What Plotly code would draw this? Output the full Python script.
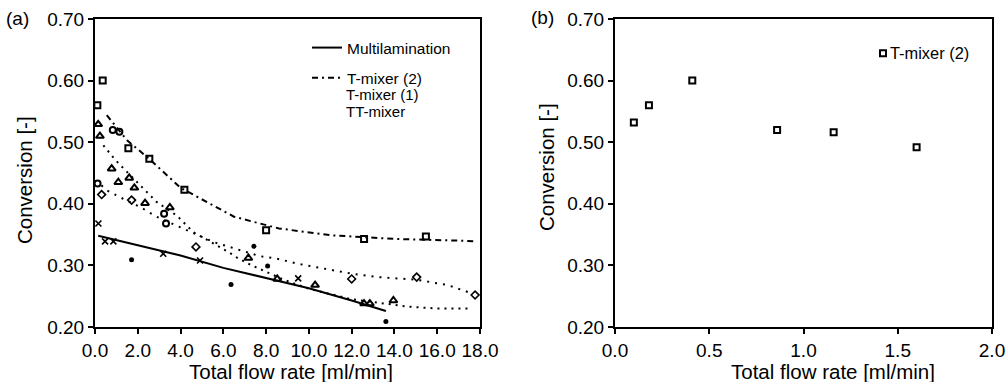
import plotly.graph_objects as go

# ---------------- Panel (a) data ----------------
# Multilamination (crosses + solid fit line)
multi_x = [0.16, 0.47, 0.86, 3.19, 4.91, 9.5]
multi_y = [0.368, 0.339, 0.339, 0.319, 0.308, 0.279]
multi_fit_x = [0.15, 2.0, 4.0, 6.0, 8.0, 10.0, 12.0, 13.6]
multi_fit_y = [0.348, 0.333, 0.316, 0.296, 0.279, 0.263, 0.243, 0.226]

# T-mixer (2) (open squares / circles + dash-dot fit line)
t2_sq_x = [0.11, 0.36, 1.56, 2.54, 4.18, 8.0, 12.58, 15.47]
t2_sq_y = [0.560, 0.600, 0.490, 0.473, 0.423, 0.357, 0.343, 0.347]
t2_ci_x = [0.83, 1.14]
t2_ci_y = [0.520, 0.517]
t2_fit_x = [0.55, 1.0, 1.5, 2.5, 4.0, 6.5, 8.6, 11.0, 12.1, 14.0, 17.2, 17.8]
t2_fit_y = [0.544, 0.525, 0.503, 0.474, 0.426, 0.379, 0.360, 0.349, 0.347, 0.343, 0.340, 0.339]

# T-mixer (1) (triangles + dotted fit line)
t1_x = [0.15, 0.23, 0.78, 1.09, 1.60, 1.84, 2.34, 3.50, 7.17, 8.52, 10.29, 12.58, 12.85, 13.95]
t1_y = [0.529, 0.510, 0.457, 0.435, 0.442, 0.426, 0.401, 0.394, 0.312, 0.278, 0.268, 0.238, 0.238, 0.243]
t1_fit_x = [0.39, 0.93, 1.32, 2.10, 2.88, 3.82, 4.60, 6.23, 6.62, 7.33, 8.88, 10.0, 12.0, 14.65, 16.0, 17.45]
t1_fit_y = [0.495, 0.472, 0.458, 0.430, 0.403, 0.381, 0.354, 0.322, 0.313, 0.300, 0.276, 0.262, 0.245, 0.233, 0.230, 0.230]

# TT-mixer (diamonds + dotted fit line)
tt_x = [0.31, 1.71, 4.72, 12.0, 15.04, 17.77]
tt_y = [0.415, 0.406, 0.330, 0.278, 0.281, 0.252]
tt_fit_x = [0.30, 0.55, 1.32, 2.10, 2.88, 4.29, 5.53, 7.71, 8.50, 9.43, 10.67, 12.08, 13.20, 15.0, 16.5, 17.5]
tt_fit_y = [0.430, 0.422, 0.408, 0.395, 0.379, 0.357, 0.338, 0.315, 0.311, 0.303, 0.295, 0.286, 0.281, 0.277, 0.268, 0.256]

# other open circles and filled dots
oc_x = [0.12, 3.23, 3.32]
oc_y = [0.433, 0.384, 0.368]
dot_x = [1.71, 6.36, 7.43, 8.07, 13.6]
dot_y = [0.309, 0.269, 0.331, 0.299, 0.209]

# ---------------- Panel (b) data ----------------
b_x = [0.10, 0.18, 0.41, 0.86, 1.16, 1.60]
b_y = [0.532, 0.560, 0.600, 0.520, 0.516, 0.492]

FONT = "Liberation Sans, Arial, sans-serif"
BLACK = "#000000"

fig = go.Figure()

def mk(x, y, symbol, size=6, lw=1.8, xa="x", ya="y"):
    return go.Scatter(x=x, y=y, mode="markers", xaxis=xa, yaxis=ya, showlegend=False,
                      marker=dict(symbol=symbol, size=size, color=BLACK,
                                  line=dict(color=BLACK, width=lw)),
                      hoverinfo="skip")

# fit lines (legend entries for first two)
fig.add_trace(go.Scatter(x=multi_fit_x, y=multi_fit_y, mode="lines", name="Multilamination",
                         line=dict(color=BLACK, width=2), legendgroup="g1", legend="legend"))
fig.add_trace(go.Scatter(x=t2_fit_x, y=t2_fit_y, mode="lines", name="T-mixer (2)",
                         line=dict(color=BLACK, width=2, dash="6px,4px,2px,4px"),
                         legendgroup="g2", legend="legend"))
fig.add_trace(go.Scatter(x=t1_fit_x, y=t1_fit_y, mode="lines", showlegend=False,
                         line=dict(color=BLACK, width=2, dash="2px,5px")))
fig.add_trace(go.Scatter(x=tt_fit_x, y=tt_fit_y, mode="lines", showlegend=False,
                         line=dict(color=BLACK, width=2, dash="2px,6px")))

# markers
fig.add_trace(mk(multi_x, multi_y, "x-thin-open", size=6, lw=1.6))
fig.add_trace(mk(t2_sq_x, t2_sq_y, "square-open", size=6, lw=2))
fig.add_trace(mk(t2_ci_x, t2_ci_y, "circle-open", size=6, lw=2))
fig.add_trace(mk(t1_x, t1_y, "triangle-up-open", size=7, lw=2))
fig.add_trace(mk(tt_x, tt_y, "diamond-open", size=6, lw=1.6))
fig.add_trace(mk(oc_x, oc_y, "circle-open", size=6, lw=2))
fig.add_trace(mk(dot_x, dot_y, "circle", size=5, lw=0))

# panel (b)
fig.add_trace(go.Scatter(x=b_x, y=b_y, mode="markers", name=" ", xaxis="x2", yaxis="y2",
                         legend="legend2",
                         marker=dict(symbol="square-open", size=6, color=BLACK,
                                     line=dict(color=BLACK, width=2))))

axis_common = dict(showline=True, linecolor=BLACK, linewidth=2, mirror=True, ticks="outside",
                   ticklen=5, tickwidth=2, tickcolor=BLACK, showgrid=False, zeroline=False,
                   tickfont=dict(family=FONT, size=19, color=BLACK), automargin=False)

def ann(text, x, y, size, xanchor="left", angle=0):
    return dict(text=text, x=x/1007, y=1 - y/382, xref="paper", yref="paper", xanchor=xanchor,
                yanchor="middle", showarrow=False, textangle=angle, borderpad=0,
                font=dict(family=FONT, size=size, color=BLACK))

fig.update_layout(
    width=1007, height=382, template="none",
    margin=dict(l=0, r=0, t=0, b=0),
    paper_bgcolor="white", plot_bgcolor="white",
    font=dict(family=FONT, color=BLACK),
    xaxis=dict(domain=[95/1007, 480/1007], range=[0, 18], dtick=2, tickformat=".1f", anchor="y", **axis_common),
    yaxis=dict(domain=[55/382, 363/382], range=[0.2, 0.7], dtick=0.1, tickformat=".2f", anchor="x", **axis_common),
    xaxis2=dict(domain=[615/1007, 992/1007], range=[0, 2], dtick=0.5, tickformat=".1f", anchor="y2", **axis_common),
    yaxis2=dict(domain=[55/382, 363/382], range=[0.2, 0.7], dtick=0.1, tickformat=".2f", anchor="x2", **axis_common),
    legend=dict(x=307/1007, y=1 - 31/382, xanchor="left", yanchor="top", bgcolor="rgba(0,0,0,0)",
                borderwidth=0, font=dict(family=FONT, size=15.5, color=BLACK),
                traceorder="grouped", tracegroupgap=7, itemwidth=30),
    legend2=dict(x=863/1007, y=1 - 36/382, xanchor="left", yanchor="top", bgcolor="rgba(0,0,0,0)",
                 borderwidth=0, font=dict(family=FONT, size=16.4, color=BLACK), itemwidth=30),
    annotations=[
        ann("(a)", 5, 19, 19),
        ann("(b)", 530, 18, 19),
        ann("T-mixer (1)", 345, 95, 15),
        ann("TT-mixer", 345, 111, 15),
        ann("T-mixer (2)", 889, 52.7, 16.4),
        ann("Total flow rate [ml/min]", 291, 371, 20.5, xanchor="center"),
        ann("Total flow rate [ml/min]", 833, 371, 20.5, xanchor="center"),
        ann("Conversion [-]", 25, 180, 20.5, xanchor="center", angle=-90),
        ann("Conversion [-]", 547, 167, 20.5, xanchor="center", angle=-90),
    ],
)

fig.write_html("out.html")
